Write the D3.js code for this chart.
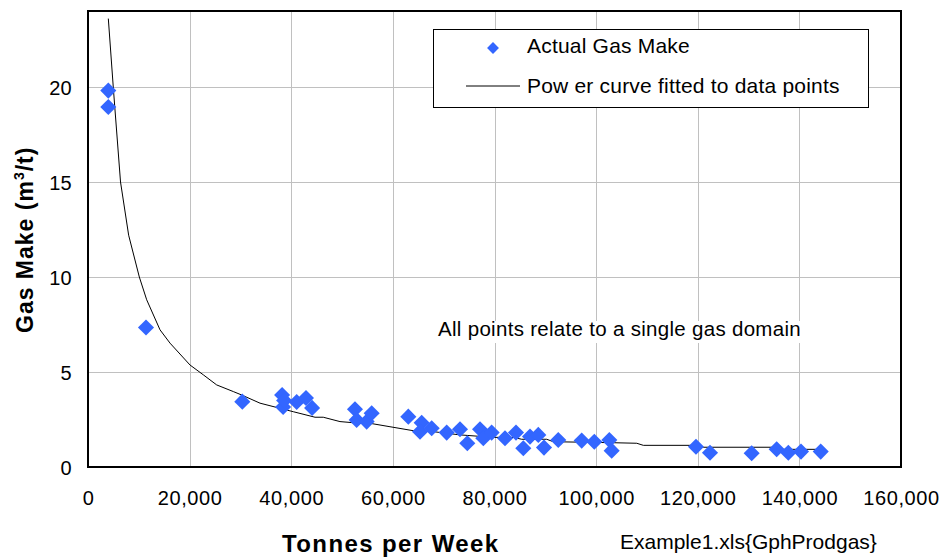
<!DOCTYPE html>
<html>
<head>
<meta charset="utf-8">
<script src="https://cdn.jsdelivr.net/npm/d3@7"></script>
<style>
  html, body { margin: 0; padding: 0; background: #fff; }
  svg { display: block; }
  text { font-family: "Liberation Sans", Arial, sans-serif; fill: #000; }
</style>
</head>
<body>
<svg id="chart" width="942" height="559"></svg>
<script>
// Weekly production vs gas make, with the fitted power curve
const gasX = [3995, 3995, 11415, 30370, 38200, 38400, 38600, 41070, 42900, 44100,
  52540, 52870, 54840, 55830, 63040, 65670, 65340, 67640, 70590, 73210,
  74650, 77150, 77800, 79440, 82070, 84230, 85670, 86990, 88620, 89740,
  92550, 97160, 99640, 102600, 103060, 119650, 122410, 130610, 135530, 137820,
  140320, 144200];
const gasY = [19.81, 18.95, 7.34, 3.44, 3.79, 3.16, 3.5, 3.42, 3.63, 3.11,
  3.04, 2.48, 2.39, 2.83, 2.65, 2.33, 1.86, 2.04, 1.81, 1.99,
  1.25, 1.99, 1.51, 1.81, 1.51, 1.81, 0.99, 1.60, 1.69, 1.02,
  1.42, 1.39, 1.33, 1.42, 0.86, 1.07, 0.75, 0.72, 0.93, 0.75,
  0.81, 0.81];

// Fitted power curve, sampled
const curveX = [4000, 5000, 6400, 8000, 10100, 11550, 14170, 16140, 20070, 22700,
  25320, 28600, 30240, 33850, 40400, 44680, 46300, 49590, 53530, 55500,
  59430, 64020, 67960, 73210, 79770, 83700, 85350, 90270, 91580, 103000,
  108000, 109290, 119800, 121100, 135500, 136800, 144050];
const curveY = [23.6, 19.9, 15.0, 12.2, 10.0, 8.8, 7.22, 6.52, 5.37, 4.85,
  4.32, 3.97, 3.79, 3.36, 2.91, 2.62, 2.62, 2.39, 2.30, 2.30,
  2.12, 1.91, 1.86, 1.69, 1.56, 1.56, 1.46, 1.46, 1.33, 1.28,
  1.25, 1.14, 1.14, 1.04, 1.04, 0.93, 0.93];

const xTicks = [0, 20000, 40000, 60000, 80000, 100000, 120000, 140000, 160000];
const yTicks = [0, 5, 10, 15, 20];

const svg = d3.select("#chart");
const plotL = 88, plotR = 901, plotT = 11, plotB = 467;

const x = d3.scaleLinear().domain([0, 160000]).range([plotL, plotR]);
const y = d3.scaleLinear().domain([0, 24]).range([plotB, plotT]);

// Gridlines
const grid = svg.append("g").attr("stroke", "#c0c0c0").attr("stroke-width", 1);
grid.selectAll("line.v").data(xTicks.slice(1, -1)).join("line")
  .attr("x1", d => Math.round(x(d)) + 0.5).attr("x2", d => Math.round(x(d)) + 0.5)
  .attr("y1", plotT).attr("y2", plotB);
grid.selectAll("line.h").data(yTicks.slice(1)).join("line")
  .attr("y1", d => Math.round(y(d)) + 0.5).attr("y2", d => Math.round(y(d)) + 0.5)
  .attr("x1", plotL).attr("x2", plotR);

// Annotation backing
svg.append("rect").attr("x", 400).attr("y", 321).attr("width", 412).attr("height", 22)
  .attr("fill", "#fff");
svg.append("text").attr("x", 438).attr("y", 336)
  .attr("font-size", 20.5).attr("letter-spacing", 0.3)
  .text("All points relate to a single gas domain");

// Plot border
svg.append("rect").attr("x", plotL).attr("y", plotT)
  .attr("width", plotR - plotL).attr("height", plotB - plotT)
  .attr("fill", "none").attr("stroke", "#000").attr("stroke-width", 2);

// Axes (labels only, ticks hidden)
const xAxis = d3.axisBottom(x).tickValues(xTicks).tickSize(0).tickPadding(0)
  .tickFormat(d3.format(","));
const gx = svg.append("g").attr("transform", `translate(0,${plotB})`).call(xAxis);
gx.select(".domain").remove();
gx.selectAll("text").attr("y", 38).attr("dy", null)
  .attr("font-size", 20).attr("letter-spacing", 0.6)
  .style("font-family", '"Liberation Sans", Arial, sans-serif');

const yAxis = d3.axisLeft(y).tickValues(yTicks).tickSize(0).tickPadding(0);
const gy = svg.append("g").attr("transform", `translate(${plotL},0)`).call(yAxis);
gy.select(".domain").remove();
gy.selectAll("text").attr("x", -16).attr("dy", "0.36em")
  .attr("font-size", 20).attr("letter-spacing", 0.3)
  .style("font-family", '"Liberation Sans", Arial, sans-serif');

// Fitted curve
const line = d3.line().x((d, i) => x(curveX[i])).y(d => y(d));
svg.append("path").datum(curveY).attr("d", line)
  .attr("fill", "none").attr("stroke", "#000").attr("stroke-width", 1);

// Data points as diamonds
const diamond = d3.symbol().type(d3.symbolDiamond2).size(165);
svg.append("g").selectAll("path").data(gasY).join("path")
  .attr("d", diamond)
  .attr("transform", (d, i) => `translate(${x(gasX[i])},${y(d)})`)
  .attr("fill", "#3366ff");

// Legend
const lg = svg.append("g");
lg.append("rect").attr("x", 433.5).attr("y", 29.5).attr("width", 435).attr("height", 78)
  .attr("fill", "#fff").attr("stroke", "#000").attr("stroke-width", 1);
lg.append("path").attr("d", d3.symbol().type(d3.symbolDiamond2).size(90))
  .attr("transform", "translate(493,48)").attr("fill", "#3366ff");
lg.append("text").attr("x", 527).attr("y", 53).attr("font-size", 21).attr("letter-spacing", 0.2)
  .text("Actual Gas Make");
lg.append("line").attr("x1", 466).attr("x2", 520).attr("y1", 86).attr("y2", 86)
  .attr("stroke", "#000").attr("stroke-width", 1);
lg.append("text").attr("x", 527).attr("y", 93).attr("font-size", 21).attr("letter-spacing", 0.2)
  .text("Pow er curve fitted to data points");

// Axis titles
svg.append("text").attr("x", 282).attr("y", 552)
  .attr("font-size", 24).attr("font-weight", "bold").attr("letter-spacing", 1.4)
  .text("Tonnes per Week");

const yt = svg.append("text").attr("transform", "translate(33,333) rotate(-90)")
  .attr("font-size", 23).attr("font-weight", "bold").attr("letter-spacing", 1);
yt.append("tspan").text("Gas Make (m");
yt.append("tspan").attr("font-size", 14).attr("dy", -9).text("3");
yt.append("tspan").attr("dy", 9).text("/t)");

svg.append("text").attr("x", 620).attr("y", 549).attr("font-size", 21)
  .text("Example1.xls{GphProdgas}");
</script>
</body>
</html>
